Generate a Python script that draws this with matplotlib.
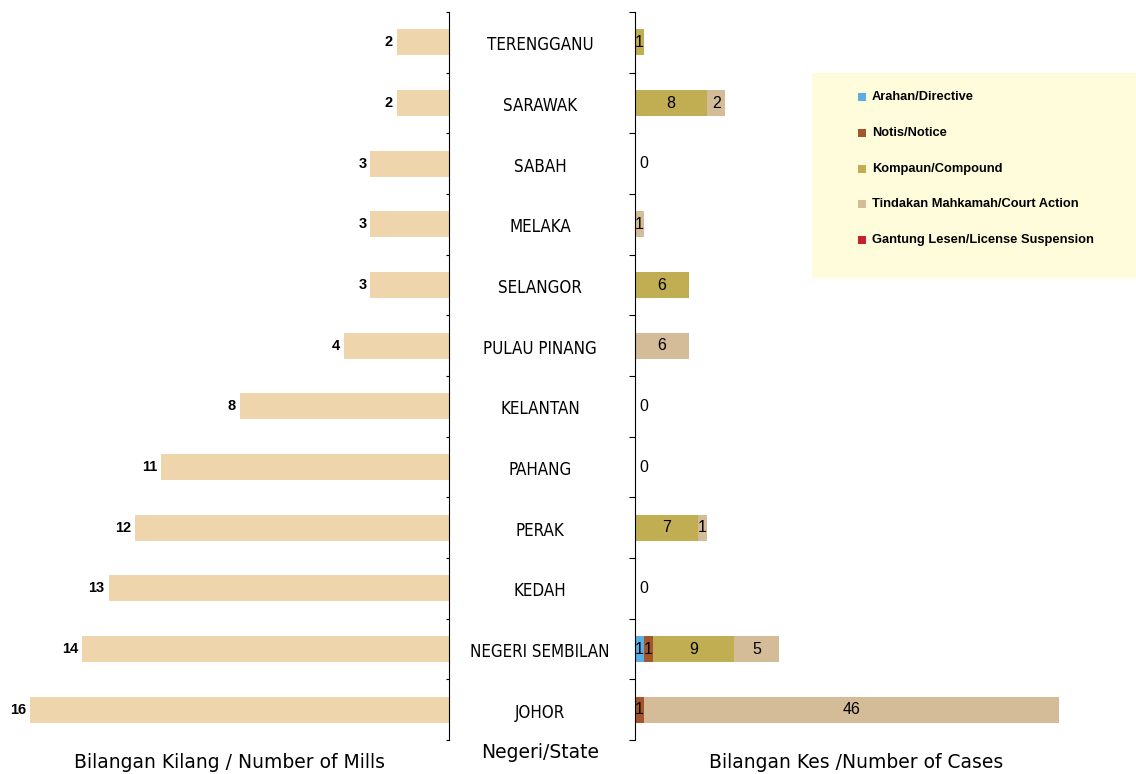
import numpy as np
import matplotlib.pyplot as plt
from matplotlib import font_manager as fm
from matplotlib.patches import Rectangle

# Data (top to bottom as in the chart)
states = ['TERENGGANU', 'SARAWAK', 'SABAH', 'MELAKA', 'SELANGOR', 'PULAU PINANG',
          'KELANTAN', 'PAHANG', 'PERAK', 'KEDAH', 'NEGERI SEMBILAN', 'JOHOR']
mills = [2, 2, 3, 3, 3, 4, 8, 11, 12, 13, 14, 16]
directive = [0, 0, 0, 0, 0, 0, 0, 0, 0, 0, 1, 0]
notice = [0, 0, 0, 0, 0, 0, 0, 0, 0, 0, 1, 1]
compound = [1, 8, 0, 0, 6, 0, 0, 0, 7, 0, 9, 0]
court = [0, 2, 0, 1, 0, 6, 0, 0, 1, 0, 5, 46]
suspension = [0, 0, 0, 0, 0, 0, 0, 0, 0, 0, 0, 0]

series = [
    ('Arahan/Directive', directive, '#5AAEE6'),
    ('Notis/Notice', notice, '#A5552B'),
    ('Kompaun/Compound', compound, '#C1AD52'),
    ('Tindakan Mahkamah/Court Action', court, '#D3BC97'),
    ('Gantung Lesen/License Suspension', suspension, '#C8202F'),
]


# Arial-like font (avoid picking "Liberation Sans Narrow")
def arial(bold=False, size=10):
    want = 'LiberationSans-Bold.ttf' if bold else 'LiberationSans-Regular.ttf'
    for f in fm.findSystemFonts():
        if f.endswith(want):
            return fm.FontProperties(fname=f, size=size)
    return fm.FontProperties(family='DejaVu Sans', weight='bold' if bold else 'normal', size=size)


n = len(states)
y = np.arange(n)[::-1]  # TERENGGANU at top
W, H = 1136, 774
fig = plt.figure(figsize=(W / 100, H / 100), dpi=100)

bottom = 1 - 740 / H
height = 728 / H

# --- left: number of mills ---
axl = fig.add_axes([0, bottom, 449 / W, height])
axl.barh(y, mills, height=0.43, color='#EED5AB')
axl.set_xlim(17.15, 0)
axl.set_ylim(-0.5, n - 0.5)
fp_bold = arial(True, 10.5)
for yi, v in zip(y, mills):
    axl.text(v + 0.15, yi, str(v), ha='right', va='center', fontproperties=fp_bold)
for s in ['left', 'top', 'bottom']:
    axl.spines[s].set_visible(False)
axl.spines['right'].set_linewidth(0.8)
axl.set_xticks([])
axl.yaxis.tick_right()
axl.set_yticks(np.arange(-0.5, n, 1))
axl.set_yticklabels([])
axl.tick_params(axis='y', direction='in', length=2.5, width=0.8)

# --- right: number of cases ---
axr = fig.add_axes([635 / W, bottom, (W - 635) / W, height])
fp_val = arial(False, 11.5)
left = np.zeros(n)
for name, vals, col in series:
    vals = np.array(vals)
    axr.barh(y, vals, left=left, height=0.43, color=col, label=name)
    for yi, l, v in zip(y, left, vals):
        if v > 0:
            axr.text(l + v / 2, yi, str(v), ha='center', va='center', fontproperties=fp_val)
    left += vals
totals = left
for yi, t in zip(y, totals):
    if t == 0:
        axr.text(0.5, yi, '0', ha='left', va='center', fontproperties=fp_val)
axr.set_xlim(0, (W - 635) / 9.02)
axr.set_ylim(-0.5, n - 0.5)
for s in ['right', 'top', 'bottom']:
    axr.spines[s].set_visible(False)
axr.spines['left'].set_linewidth(0.8)
axr.set_xticks([])
axr.set_yticks(np.arange(-0.5, n, 1))
axr.set_yticklabels([])
axr.tick_params(axis='y', direction='out', length=4, width=0.8)

# state names in the middle
for yi, st in zip(y, states):
    fig.text(540 / W, axl.transData.transform((0, yi))[1] / H - 3 / H, st,
             ha='center', va='center', fontsize=12.2, family='DejaVu Sans',
             fontstretch='condensed')

# legend box drawn by hand to match the panel
fig.patches.append(Rectangle((812 / W, 1 - 278 / H), (W - 812) / W, 205 / H,
                             transform=fig.transFigure, facecolor='#FFFCDC',
                             edgecolor='none', zorder=0))
fp_leg = arial(True, 9.3)
for i, (name, vals, col) in enumerate(series):
    yy = 1 - (97 + 35.8 * i) / H
    fig.patches.append(Rectangle((858 / W, yy - 4 / H), 8 / W, 8 / H,
                                 transform=fig.transFigure, facecolor=col,
                                 edgecolor='none', zorder=1))
    fig.text(872 / W, yy, name, ha='left', va='center', fontproperties=fp_leg)

# axis titles
fig.text(229 / W, 1 - 763 / H, 'Bilangan Kilang / Number of Mills', ha='center',
         va='center', fontsize=13.5)
fig.text(540 / W, 1 - 752 / H, 'Negeri/State', ha='center', va='center', fontsize=13.5)
fig.text(856 / W, 1 - 763 / H, 'Bilangan Kes /Number of Cases', ha='center',
         va='center', fontsize=13.5)

fig.savefig('out.png', dpi=100)
